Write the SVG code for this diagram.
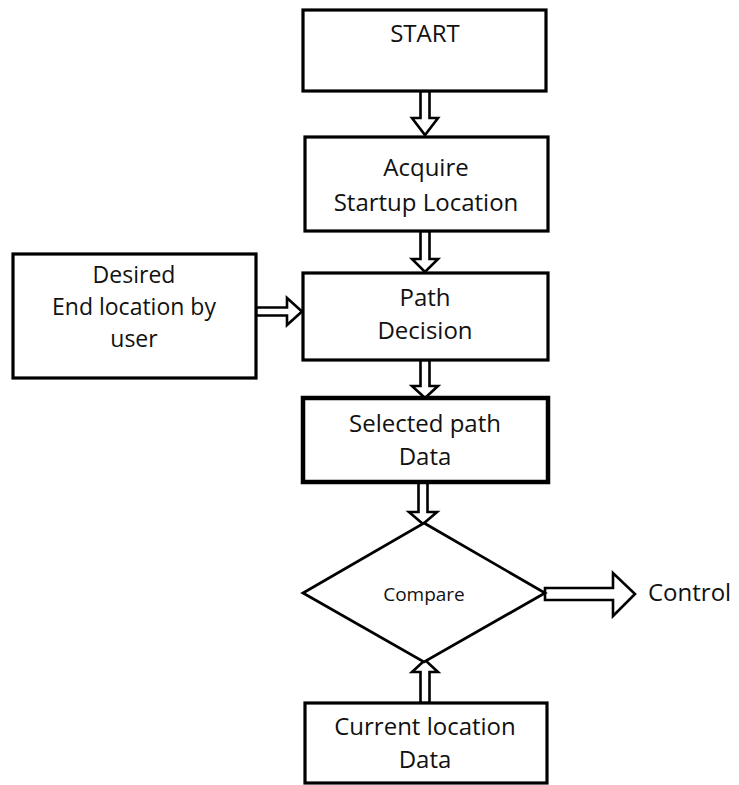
<svg xmlns="http://www.w3.org/2000/svg" width="739" height="785" viewBox="0 0 739 785">
  <style>
    .box { fill: #fff; stroke: #000; stroke-width: 3.2; }
    .thick { stroke-width: 4.5; }
    .dia { fill: #fff; stroke: #000; stroke-width: 2.8; }
    .arrow { fill: #fff; stroke: #000; stroke-width: 2.6; stroke-linejoin: miter; }
    text { font-family: "Open Sans", "Liberation Sans", sans-serif; font-size: 24px; fill: #111; text-anchor: middle; }
    .small { font-size: 19px; }
    .mid { font-size: 23px; }
  </style>
  <rect width="739" height="785" fill="#fff"/>

  <g id="connectors">
    <!-- START -> Acquire -->
    <polygon class="arrow" points="420.5,91 429.5,91 429.5,118 438,118 425,135 412,118 420.5,118"/>
    <!-- Acquire -> Path Decision -->
    <polygon class="arrow" points="420.5,231 429.5,231 429.5,259 438,259 425,272 412,259 420.5,259"/>
    <!-- Path Decision -> Selected path -->
    <polygon class="arrow" points="420.5,360 429.5,360 429.5,386 438,386 425,398 412,386 420.5,386"/>
    <!-- Selected path -> Compare -->
    <polygon class="arrow" points="418.5,482 427.5,482 427.5,512 437,512 423,524 409,512 418.5,512"/>
    <!-- Current location -> Compare -->
    <polygon class="arrow" points="420.5,703 429.5,703 429.5,672 438,672 425,660 412,672 420.5,672"/>
    <!-- Desired end location -> Path Decision -->
    <polygon class="arrow" points="256,307.5 287,307.5 287,298 302,311.5 287,325 287,315.5 256,315.5"/>
    <!-- Compare -> Control -->
    <polygon class="arrow" points="545,588 613,588 613,573 635,594 613,616 613,600 545,600"/>
  </g>

  <g id="start">
    <rect class="box" x="303" y="10" width="243" height="81"/>
    <text x="425" y="42">START</text>
  </g>

  <g id="acquire">
    <rect class="box" x="305" y="137" width="243" height="94"/>
    <text x="426" y="176">Acquire</text>
    <text x="426" y="211">Startup Location</text>
  </g>

  <g id="desired">
    <rect class="box" x="13" y="254" width="243" height="124"/>
    <text class="mid" x="134" y="283">Desired</text>
    <text class="mid" x="134" y="315">End location by</text>
    <text class="mid" x="134" y="347">user</text>
  </g>

  <g id="path-decision">
    <rect class="box" x="303" y="273" width="245" height="87"/>
    <text x="425" y="306">Path</text>
    <text x="425" y="339">Decision</text>
  </g>

  <g id="selected-path">
    <rect class="box thick" x="303" y="398" width="245" height="84"/>
    <text x="425" y="432">Selected path</text>
    <text x="425" y="465">Data</text>
  </g>

  <g id="compare">
    <polygon class="dia" points="424,523 545,593 424,662 303,593"/>
    <text class="small" x="424" y="601">Compare</text>
  </g>

  <g id="control">
    <text x="648" y="601" style="text-anchor:start">Control</text>
  </g>

  <g id="current-location">
    <rect class="box" x="305" y="703" width="242" height="80"/>
    <text x="425" y="735">Current location</text>
    <text x="425" y="768">Data</text>
  </g>
</svg>
